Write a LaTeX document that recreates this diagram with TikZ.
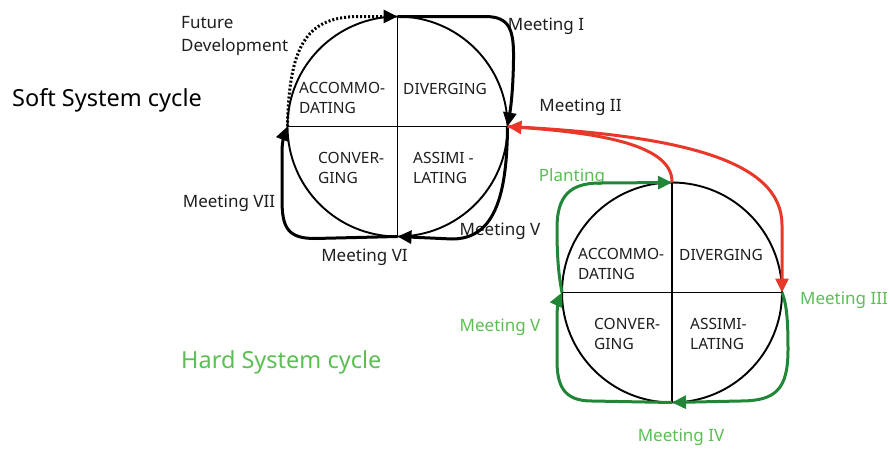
\documentclass[tikz,border=0pt]{standalone}
\usepackage{fontspec}
\setmainfont{Noto Sans}
\usetikzlibrary{arrows.meta}
\definecolor{arrred}{RGB}{232,56,42}
\definecolor{arrgreen}{RGB}{34,134,56}
\definecolor{txtgreen}{RGB}{92,190,84}
\definecolor{txtgray}{RGB}{30,30,30}
\tikzset{
  cyc/.style={circle,draw=black,line width=1.9pt,minimum size=220pt,inner sep=0pt,outer sep=0pt},
  quad/.style={line width=1.9pt},
  cell/.style={font=\fontsize{15.5}{20}\selectfont,align=left,inner sep=0pt,text=txtgray},
  lbl/.style={font=\fontsize{17}{23}\selectfont,inner sep=0pt,text=txtgray},
  glbl/.style={font=\fontsize{17}{23}\selectfont,inner sep=0pt,text=txtgreen},
  ttl/.style={font=\fontsize{23.5}{28}\selectfont,inner sep=0pt},
  flow/.style={line width=3pt,-{Triangle[length=14pt,width=13pt]},line join=round},
  blk/.style={flow,draw=black},
  red/.style={flow,draw=arrred},
  grn/.style={flow,draw=arrgreen},
  dots/.style={line width=3pt,draw=black,dash pattern=on 2pt off 2pt,-{Triangle[length=14pt,width=13pt]}},
}
\begin{document}
\begin{tikzpicture}[x=1pt,y=-1pt]
\useasboundingbox (0,0) rectangle (889,448);
% circles
\node[cyc] (soft) at (397.5,126.5) {};
\node[cyc] (hard) at (672,292.5) {};
\draw[quad] (soft.north) -- (soft.south);
\draw[quad] (soft.west) -- (soft.east);
\draw[quad] (hard.north) -- (hard.south);
\draw[quad] (hard.west) -- (hard.east);
% soft cell text
\node[cell,anchor=west] (sacc) at (299,98) {ACCOMMO-\\DATING};
\node[cell,anchor=west] (sdiv) at (403,89) {DIVERGING};
\node[cell,anchor=west] (scon) at (318,167.5) {CONVER-\\GING};
\node[cell,anchor=west] (sass) at (413,167.5) {ASSIMI -\\LATING};
% hard cell text
\node[cell,anchor=west] (hacc) at (578,263.5) {ACCOMMO-\\DATING};
\node[cell,anchor=west] (hdiv) at (679,255) {DIVERGING};
\node[cell,anchor=west] (hcon) at (594,333.5) {CONVER-\\GING};
\node[cell,anchor=west] (hass) at (690,333.5) {ASSIMI-\\LATING};
% labels
\node[lbl,align=left,anchor=west] (fut) at (181,35.5) {Future\\Development};
\node[lbl] (m1) at (546,26) {Meeting I};
\node[lbl] (m2) at (580.5,107) {Meeting II};
\node[lbl] (m7) at (229,203) {Meeting VII};
\node[lbl] (m5) at (500,231) {Meeting V};
\node[lbl] (m6) at (364.5,257) {Meeting VI};
\node[ttl,anchor=west] (softt) at (12,100) {Soft System cycle};
\node[glbl] (plant) at (572,177) {Planting};
\node[glbl] (m3) at (844,300) {Meeting III};
\node[glbl] (m5g) at (500,327) {Meeting V};
\node[ttl,text=txtgreen,anchor=west] (hardt) at (181,362) {Hard System cycle};
\node[glbl] (m4) at (681,437) {Meeting IV};
% soft cycle arrows
\draw[dots] (soft.west) .. controls (289,40) and (310,16.5) .. (360,16.5) -- (soft.north);
\draw[blk] (soft.north) -- (485,16.5) .. controls (510,16.5) and (514,30) .. (513.5,60) .. controls (513,95) and (510,112) .. (soft.east);
\draw[blk] (soft.east) .. controls (507,195) and (495,239) .. (452,239) -- (soft.south);
\draw[blk] (soft.south) -- (315,238.5) .. controls (288,238.5) and (282,228) .. (282,200) -- (282,152) .. controls (282,140) and (285,133) .. (soft.west);
% red arrows
\draw[red] (hard.north) .. controls (673,145) and (600,133) .. (soft.east);
\draw[red] (soft.east) .. controls (680,135) and (782,160) .. (782,225) -- (hard.east);
% hard cycle arrows
\draw[grn] (hard.west) .. controls (558,272) and (557,252) .. (557,228) .. controls (557,196) and (570,183) .. (600,183) -- (hard.north);
\draw[grn] (hard.east) .. controls (787,305) and (788,322) .. (788,350) .. controls (788,390) and (775,401) .. (740,401) -- (hard.south);
\draw[grn] (hard.south) -- (592,401) .. controls (563,401) and (557,385) .. (557,360) -- (557,318) .. controls (557,306) and (559,299) .. (hard.west);
\end{tikzpicture}
\end{document}
